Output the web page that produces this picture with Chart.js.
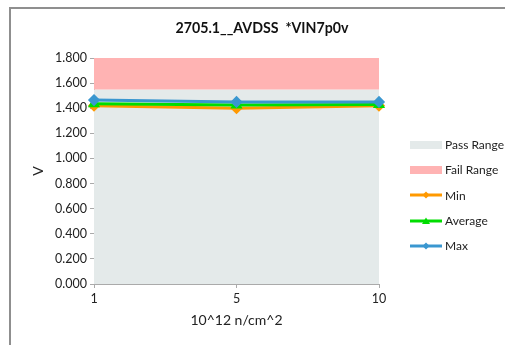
<!DOCTYPE html>
<html lang="en">
<head>
    <meta charset="UTF-8">
    <script src="https://cdn.jsdelivr.net/npm/chart.js"></script>
    <title>2705.1__AVDSS</title>
    <style>
        body { margin: 0; background: #fff; font-family: Lato, 'Liberation Sans', sans-serif; }
        .moldura { position: absolute; left: 9px; top: 7px; width: 600px; height: 400px;
            border-left: 2px solid #8f8f8f; border-top: 2px solid #8f8f8f; }
        .caixa { position: absolute; left: 0; top: 0; width: 505px; height: 345px; }
        .legenda { position: absolute; left: 410px; top: 132px; font-size: 12px; color: #222; }
        .item { height: 25.3px; display: flex; align-items: center; }
        .item svg { margin-right: 3px; }
    </style>
</head>
<body>
    <div class="moldura"></div>
    <div class="caixa">
        <canvas id="grafico" width="505" height="345"></canvas>
    </div>
    <div class="legenda" id="legenda"></div>

<script>
    // dados
    const categorias = ['1', '5', '10'];
    const valoresMin = [1.42, 1.40, 1.42];
    const valoresMedia = [1.435, 1.425, 1.43];
    const valoresMax = [1.465, 1.45, 1.45];
    const limitePass = [1.55, 1.55, 1.55];
    const limiteFail = [1.8, 1.8, 1.8];

    const corPass = '#e4eaea';
    const corFail = '#ffb3b3';
    const corMin = '#ff9900';
    const corMedia = '#00dd00';
    const corMax = '#3a97d0';

    const data = {
        labels: categorias,
        datasets: [
            { label: 'Pass Range', data: limitePass, fill: 'origin', backgroundColor: corPass,
              borderWidth: 0, pointRadius: 0, order: 10 },
            { label: 'Fail Range', data: limiteFail, fill: 0, backgroundColor: corFail,
              borderWidth: 0, pointRadius: 0, order: 9 },
            { label: 'Min', data: valoresMin, borderColor: corMin, backgroundColor: corMin,
              borderWidth: 3, pointStyle: 'rectRot', pointRadius: 4, order: 3 },
            { label: 'Average', data: valoresMedia, borderColor: corMedia, backgroundColor: corMedia,
              borderWidth: 3, pointStyle: 'triangle', pointRadius: 4, order: 2 },
            { label: 'Max', data: valoresMax, borderColor: corMax, backgroundColor: corMax,
              borderWidth: 3, pointStyle: 'rectRot', pointRadius: 4, order: 1 }
        ]
    };

    const fonteEixo = { family: 'Lato', size: 12.5 };

    const config = {
        type: 'line',
        data: data,
        options: {
            responsive: false,
            animation: false,
            layout: { padding: { left: 19, right: 0, top: 0, bottom: 0 } },
            plugins: {
                legend: { display: false },
                tooltip: { enabled: false },
                title: {
                    display: true,
                    text: '2705.1__AVDSS  *VIN7p0v',
                    color: '#111',
                    font: { family: 'Lato', size: 14.2, weight: 'bold' },
                    padding: { top: 20, bottom: 21 }
                }
            },
            scales: {
                x: {
                    offset: false,
                    grid: { drawOnChartArea: false, tickLength: 4, color: '#aaa' },
                    border: { color: '#aaa' },
                    ticks: { color: '#222', font: fonteEixo, padding: 3, maxRotation: 0 },
                    title: { display: true, text: '10^12 n/cm^2', color: '#222',
                             font: { family: 'Lato', size: 14 }, padding: { top: 6, bottom: 16 } },
                    afterFit: function (scale) { scale.height = 61; }
                },
                y: {
                    min: 0,
                    max: 1.8,
                    grid: { drawOnChartArea: false, tickLength: 4, color: '#aaa' },
                    border: { color: '#aaa' },
                    ticks: { stepSize: 0.2, color: '#222', font: fonteEixo, padding: 3,
                             callback: function (v) { return v.toFixed(3); } },
                    title: { display: true, text: 'V', color: '#222',
                             font: { family: 'Lato', size: 14 }, padding: { top: 11, bottom: 0 } },
                    afterFit: function (scale) { scale.width = 94 - 19; }
                },
                // eixo vazio so para reservar o espaco da legenda
                espaco: {
                    position: 'right',
                    grid: { display: false },
                    border: { display: false },
                    ticks: { display: false },
                    afterFit: function (scale) { scale.width = 505 - 379; }
                }
            }
        }
    };

    const myChart = new Chart(document.getElementById('grafico'), config);

    // legenda montada fora do canvas
    function simbolo(ds) {
        if (ds.pointRadius === 0) {
            return '<svg width="32" height="8"><rect x="0" y="0" width="32" height="8" fill="' + ds.backgroundColor + '"/></svg>';
        }
        let marca;
        if (ds.pointStyle === 'triangle') {
            marca = '<polygon points="16,0.5 20,7 12,7" fill="' + ds.borderColor + '"/>';
        } else {
            marca = '<polygon points="16,0.5 19.5,4 16,7.5 12.5,4" fill="' + ds.borderColor + '"/>';
        }
        return '<svg width="32" height="8"><line x1="0" y1="4" x2="32" y2="4" stroke="' + ds.borderColor + '" stroke-width="3"/>' + marca + '</svg>';
    }

    let html = '';
    data.datasets.forEach(function (ds) {
        html += '<div class="item">' + simbolo(ds) + '<span>' + ds.label + '</span></div>';
    });
    document.getElementById('legenda').innerHTML = html;
</script>
</body>
</html>
